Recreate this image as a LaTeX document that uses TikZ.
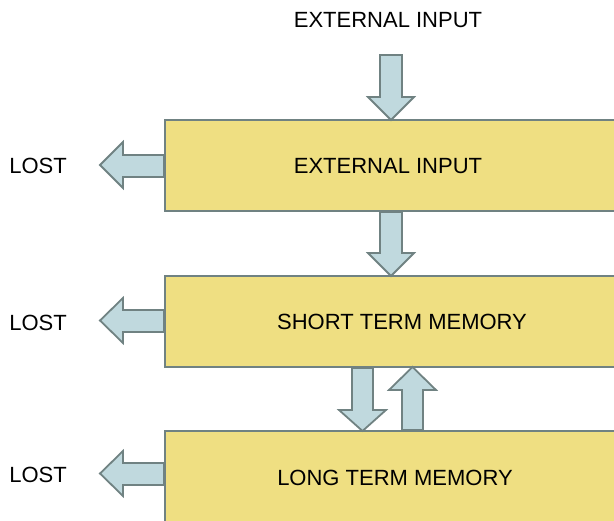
\documentclass[tikz,border=0pt]{standalone}
\usepackage{fontspec}
\setmainfont{Liberation Sans}
\definecolor{boxfill}{RGB}{239,223,130}
\definecolor{edge}{RGB}{112,130,130}
\definecolor{arrowfill}{RGB}{192,217,222}
\tikzset{
  x=1pt, y=-1pt,
  membox/.style={draw=edge, line width=2pt},
  blockarrow/.style={fill=arrowfill, draw=edge, line width=1.8pt, line join=miter},
  lbl/.style={font=\fontsize{22}{26}\selectfont, inner sep=0pt, anchor=center}
}
\begin{document}
\begin{tikzpicture}
\useasboundingbox (0,0) rectangle (614,521);
% memory stages (running off the right and bottom edges)
\fill[boxfill] (165,120) rectangle (640,211);
\fill[boxfill] (165,276) rectangle (640,367);
\fill[boxfill] (165,431) rectangle (640,540);
\draw[membox] (640,120) -- (165,120) -- (165,211) -- (640,211);
\draw[membox] (640,276) -- (165,276) -- (165,367) -- (640,367);
\draw[membox] (640,431) -- (165,431) -- (165,540);
% labels
\node[lbl] (top) at (388,20) {EXTERNAL INPUT};
\node[lbl] (t1) at (388,166) {EXTERNAL INPUT};
\node[lbl] (t2) at (402,322) {SHORT TERM MEMORY};
\node[lbl] (t3) at (395,478) {LONG TERM MEMORY};
\node[lbl] (l1) at (38,166) {LOST};
\node[lbl] (l2) at (38,323) {LOST};
\node[lbl] (l3) at (38,475) {LOST};
% downward block arrows
\draw[blockarrow] (380,55) -- (402,55) -- (402,97) -- (414,97) -- (391,120) -- (368,97) -- (380,97) -- cycle;
\draw[blockarrow] (380,212) -- (402,212) -- (402,253) -- (414,253) -- (391,276) -- (368,253) -- (380,253) -- cycle;
\draw[blockarrow] (352,368) -- (373,368) -- (373,410) -- (386,410) -- (362.5,431) -- (339,410) -- (352,410) -- cycle;
% upward block arrow
\draw[blockarrow] (402,430) -- (423,430) -- (423,390) -- (436,390) -- (412.5,367) -- (389,390) -- (402,390) -- cycle;
% leftward block arrows
\draw[blockarrow] (164,155) -- (164,177) -- (123,177) -- (123,188) -- (100,165) -- (123,142) -- (123,155) -- cycle;
\draw[blockarrow] (164,310) -- (164,332) -- (123,332) -- (123,343) -- (100,320.5) -- (123,298) -- (123,310) -- cycle;
\draw[blockarrow] (164,463) -- (164,485) -- (123,485) -- (123,496) -- (100,473.5) -- (123,451) -- (123,463) -- cycle;
\end{tikzpicture}
\end{document}
